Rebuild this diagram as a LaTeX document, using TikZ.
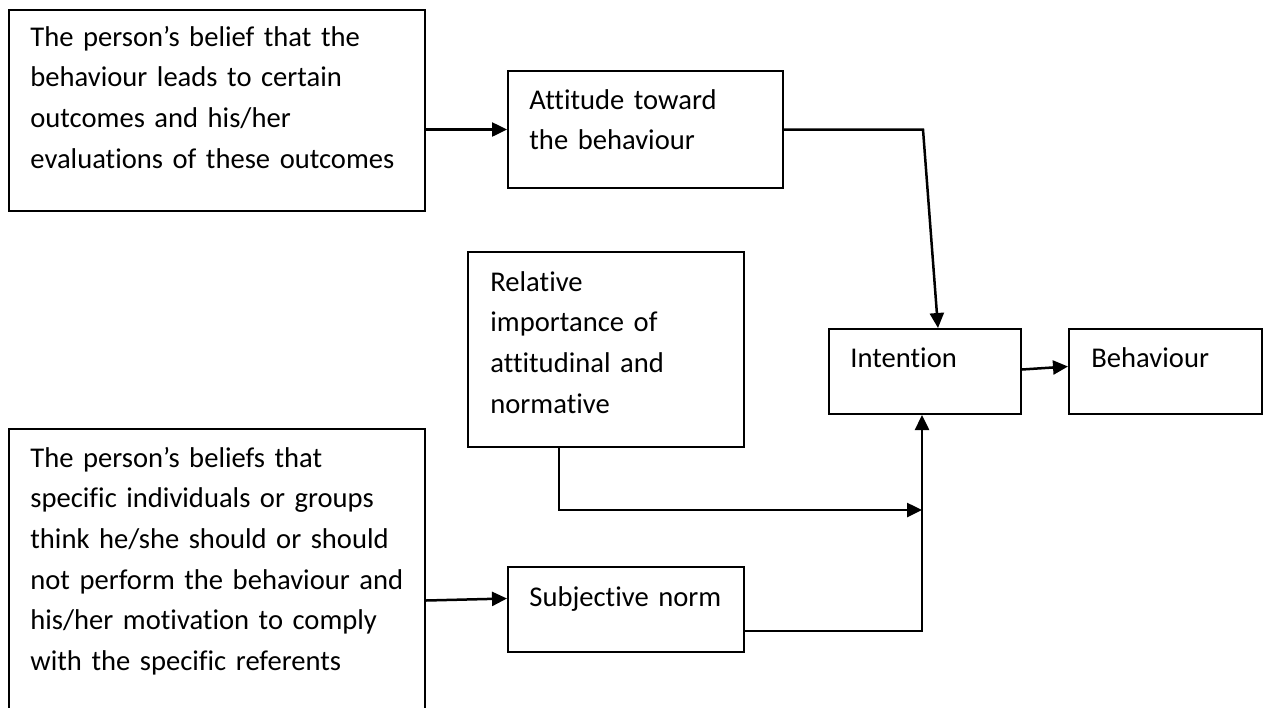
\documentclass[tikz,border=0pt]{standalone}
\usepackage{fontspec}
\setmainfont{Carlito}[Ligatures={NoCommon,NoContextual}]
\usetikzlibrary{arrows.meta,calc,fit}
\begin{document}
\begin{tikzpicture}[x=0.5pt,y=-0.5pt,
  box/.style={draw=black, line width=1pt, inner sep=0pt, rectangle},
  boxtext/.style={anchor=base west, inner sep=0pt, align=left, text width=#1,
    font=\fontsize{14.3pt}{20.35pt}\selectfont},
  boxtext/.default=200pt,
  link/.style={draw=black, line width=1.25pt},
  arr/.style={link, -{Triangle[length=7.5pt,width=7pt]}}
]
\useasboundingbox (0,0) rectangle (1263,707);
\clip (0,0) rectangle (1263,707);

% boxes
\node[box, fit={(9,10) (425,211)}]     (A)   {};
\node[box, fit={(508,71) (783,188)}]  (Att) {};
\node[box, fit={(468,252) (744,447)}] (Rel) {};
\node[box, fit={(829,329) (1021,414)}] (Int) {};
\node[box, fit={(1069,329) (1262,414)}] (Beh) {};
\node[box, fit={(9,429) (425,760)}]   (B)   {};
\node[box, fit={(508,567) (744,652)}] (Sub) {};

% texts
\node[boxtext] (Atxt) at (30,46) {The person’s belief that the\\behaviour leads to certain\\outcomes and his/her\\evaluations of these outcomes};
\node[boxtext=130pt] (Atttxt) at (529,109) {Attitude toward\\the behaviour};
\node[boxtext=130pt] (Reltxt) at (490,291) {Relative\\importance of\\attitudinal and\\normative};
\node[boxtext=90pt] (Inttxt) at (850,367) {Intention};
\node[boxtext=90pt] (Behtxt) at (1091,367) {Behaviour};
\node[boxtext=110pt] (Subtxt) at (529,606) {Subjective norm};
\node[boxtext] (Btxt) at (30,467) {The person’s beliefs that\\specific individuals or groups\\think he/she should or should\\not perform the behaviour and\\his/her motivation to comply\\with the specific referents};

% connectors
\coordinate (J) at (922,510);
\draw[arr] (A.east |- Att.west) -- (Att.west);
\draw[arr] (Att.east) -- ++(139,0) -- ($(Int.north)+(13,0)$);
\draw[arr] ($(Rel.south)+(-47,0)$) |- (J);
\draw[arr] ($(Sub.east)+(0,21.5)$) -| ($(Int.south)+(-3,0)$);
\draw[arr] ($(B.east)+(0,6)$) -- ($(Sub.west)+(0,-11)$);
\draw[arr] ($(Int.east)+(0,-2)$) -- ($(Beh.west)+(0,-5)$);
\end{tikzpicture}
\end{document}
